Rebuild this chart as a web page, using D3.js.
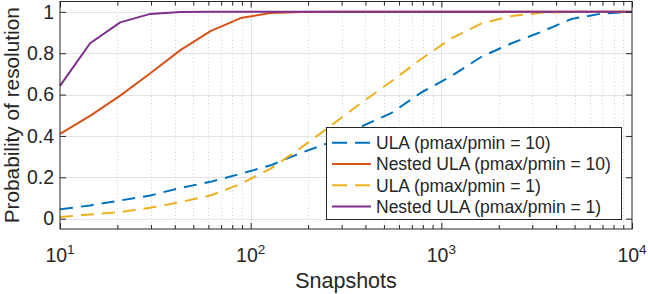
<!DOCTYPE html>
<html><head><meta charset="utf-8">
<script src="https://cdn.jsdelivr.net/npm/d3@7"></script>
<style>
body{margin:0;background:#fff}
svg{display:block}
text{font-family:"Liberation Sans",Arial,Helvetica,sans-serif;fill:#262626}
</style>
</head><body>
<svg id="c" width="648" height="294"></svg>
<script>
// ---- data ----
const snapshots = [10, 14.38, 20.69, 29.76, 42.81, 61.58, 88.59, 127.4, 183.3, 263.7,
                   379.3, 545.6, 784.8, 1129, 1624, 2336, 3360, 4833, 6952, 10000];
const ulaRatio10    = [0.045, 0.064, 0.088, 0.112, 0.149, 0.178, 0.217, 0.258, 0.318, 0.37,
                       0.445, 0.51, 0.61, 0.69, 0.783, 0.848, 0.904, 0.966, 0.992, 1.0];
const nestedRatio10 = [0.41, 0.497, 0.595, 0.703, 0.815, 0.907, 0.97, 0.994, 0.999, 1,
                       1, 1, 1, 1, 1, 1, 1, 1, 1, 1];
const ulaRatio1     = [0.008, 0.02, 0.032, 0.053, 0.08, 0.112, 0.168, 0.242, 0.342, 0.45,
                       0.559, 0.663, 0.772, 0.872, 0.944, 0.98, 0.995, 1, 1, 1];
const nestedRatio1  = [0.642, 0.848, 0.949, 0.99, 0.999, 1, 1, 1, 1, 1,
                       1, 1, 1, 1, 1, 1, 1, 1, 1, 1];
const seriesNames = ["ULA (pmax/pmin = 10)", "Nested ULA (pmax/pmin = 10)",
                     "ULA (pmax/pmin = 1)", "Nested ULA (pmax/pmin = 1)"];
const yTicks = [0, 0.2, 0.4, 0.6, 0.8, 1];
const yTickLabels = ["0", "0.2", "0.4", "0.6", "0.8", "1"];
const xTicks = [10, 100, 1000, 10000];
const xTickExps = ["1", "2", "3", "4"];
const xLabel = "Snapshots";
const yLabel = "Probability of resolution";

// ---- styles ----
const series = [
  {name: seriesNames[0], values: ulaRatio10,    color: "#0072BD", dash: "13,8"},
  {name: seriesNames[1], values: nestedRatio10, color: "#D95319", dash: null},
  {name: seriesNames[2], values: ulaRatio1,     color: "#EDB120", dash: "13,8"},
  {name: seriesNames[3], values: nestedRatio1,  color: "#7E2F8E", dash: null}
];

const L = 60, R = 632, T = 1.5, B = 229;
const svg = d3.select("#c");
const x = d3.scaleLog().domain([10, 10000]).range([L, R]);
const y = d3.scaleLinear().domain([-0.05, 1.05]).range([B, T]);
const axisColor = "#262626";

// minor x values
const minors = [];
for (let d = 10; d < 10000; d *= 10) for (let k = 2; k <= 9; k++) minors.push(d * k);

// grid
const g = svg.append("g");
g.selectAll(".mg").data(minors).join("line")
  .attr("x1", d => Math.round(x(d)) + 0.5).attr("x2", d => Math.round(x(d)) + 0.5)
  .attr("y1", T).attr("y2", B)
  .attr("stroke", "#cfcfcf").attr("stroke-width", 1).attr("stroke-dasharray", "1,2.5");
g.selectAll(".gx").data(xTicks.slice(1, -1)).join("line")
  .attr("x1", d => Math.round(x(d)) + 0.5).attr("x2", d => Math.round(x(d)) + 0.5)
  .attr("y1", T).attr("y2", B).attr("stroke", "#e3e3e3").attr("stroke-width", 1);
g.selectAll(".gy").data(yTicks).join("line")
  .attr("x1", L).attr("x2", R)
  .attr("y1", d => Math.round(y(d)) + 0.5).attr("y2", d => Math.round(y(d)) + 0.5)
  .attr("stroke", "#e3e3e3").attr("stroke-width", 1);

// lines
const line = d3.line().x((d, i) => x(snapshots[i])).y(d => y(d));
series.forEach(s => {
  svg.append("path").datum(s.values)
    .attr("d", line).attr("fill", "none")
    .attr("stroke", s.color).attr("stroke-width", 2)
    .attr("stroke-linejoin", "round")
    .attr("stroke-dasharray", s.dash);
});

// axes box
svg.append("rect").attr("x", L).attr("y", T).attr("width", R - L).attr("height", B - T)
  .attr("fill", "none").attr("stroke", axisColor).attr("stroke-width", 1);

// ticks via d3 axes (inward)
const xAxisB = d3.axisTop(x).tickValues(xTicks).tickSize(6).tickFormat("");
const xAxisT = d3.axisBottom(x).tickValues(xTicks).tickSize(6).tickFormat("");
const xMinB = d3.axisTop(x).tickValues(minors).tickSize(4).tickFormat("");
const xMinT = d3.axisBottom(x).tickValues(minors).tickSize(4).tickFormat("");
const yAxisL = d3.axisRight(y).tickValues(yTicks).tickSize(6).tickFormat("");
const yAxisR = d3.axisLeft(y).tickValues(yTicks).tickSize(6).tickFormat("");
function drawAxis(ax, tr) {
  const a = svg.append("g").attr("transform", tr).call(ax);
  a.select(".domain").remove();
  a.selectAll("line").attr("stroke", axisColor);
}
drawAxis(xAxisB, `translate(0,${B})`);
drawAxis(xMinB, `translate(0,${B})`);
drawAxis(xAxisT, `translate(0,${T})`);
drawAxis(xMinT, `translate(0,${T})`);
drawAxis(yAxisL, `translate(${L},0)`);
drawAxis(yAxisR, `translate(${R},0)`);

// tick labels
svg.selectAll(".yl").data(yTicks).join("text")
  .attr("x", 54).attr("y", d => y(d)).attr("dy", "0.35em")
  .attr("text-anchor", "end").attr("font-size", "19.5px")
  .text((d, i) => yTickLabels[i]);
const xl = svg.selectAll(".xl").data(xTicks).join("text")
  .attr("x", d => x(d)).attr("y", 262)
  .attr("text-anchor", "middle").attr("font-size", "19.5px");
xl.append("tspan").text("10");
xl.append("tspan").attr("font-size", "13.5px").attr("dy", "-8").text((d, i) => xTickExps[i]);

// axis labels
svg.append("text").attr("x", (L + R) / 2).attr("y", 288)
  .attr("text-anchor", "middle").attr("font-size", "21.5px").text(xLabel);
svg.append("text").attr("transform", `translate(19,${(T + B) / 2}) rotate(-90)`)
  .attr("text-anchor", "middle").attr("font-size", "20.8px").text(yLabel);

// legend
const lg = svg.append("g");
lg.append("rect").attr("x", 326.5).attr("y", 127.5).attr("width", 295).attr("height", 92)
  .attr("fill", "#fff").attr("stroke", axisColor).attr("stroke-width", 1);
const rowY = [142.7, 164, 185.3, 206.6];
series.forEach((s, i) => {
  lg.append("line").attr("x1", 332).attr("x2", 371).attr("y1", rowY[i]).attr("y2", rowY[i])
    .attr("stroke", s.color).attr("stroke-width", 2).attr("stroke-dasharray", s.dash ? "15,8" : null);
  lg.append("text").attr("x", 376).attr("y", rowY[i]).attr("dy", "0.36em")
    .attr("font-size", "17.5px").text(s.name);
});
</script>
</body></html>
